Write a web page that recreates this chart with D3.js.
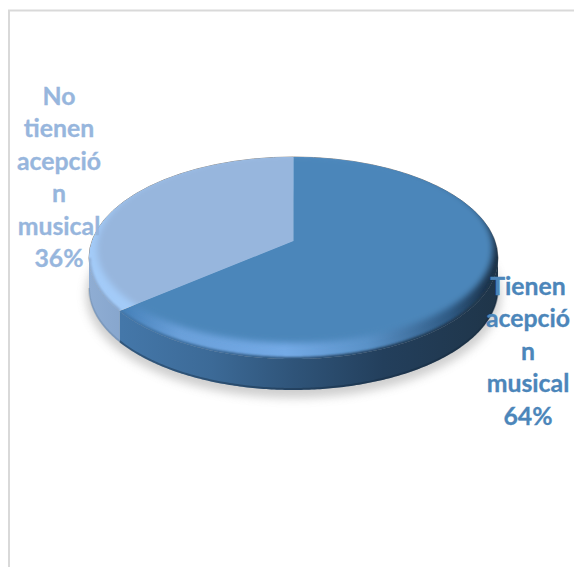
<!DOCTYPE html>
<html>
<head>
<meta charset="utf-8">
<script src="https://cdn.jsdelivr.net/npm/d3@7"></script>
<style>
  html, body { margin: 0; padding: 0; background: #fff; }
  svg { display: block; }
  text { font-family: Lato, "Open Sans", sans-serif; font-weight: 700; text-anchor: middle; }
</style>
</head>
<body>
<svg id="chart" width="574" height="567"></svg>
<script>
// Audience split, in percent
const categories = ["Tienen acepción musical", "No tienen acepción musical"];
const values = [64, 36];
const labelLines = [["Tienen", "acepció", "n", "musical"], ["No", "tienen", "acepció", "n", "musical"]];
const faceColors = ["#4C86BA", "#97B6DD"];
const labelColors = ["#4C86BA", "#97B6DD"];

const svg = d3.select("#chart");
const defs = svg.append("defs");

// Tilted disc: rim ellipse plus the point on screen where the slices meet
const disc = { cx: 293.5, cy: 258, rx: 204.5, ry: 101, hubY: 241, depth: 31 };
const k = (disc.cy - disc.hubY) / disc.ry;
const A = disc.rx * Math.sqrt(1 - k * k);

// Perspective projection of a unit-circle angle (clockwise from north) on to the rim
function project(theta) {
  const u = Math.sin(theta), v = Math.cos(theta), w = 1 + k * v;
  return [disc.cx + A * u / w, disc.cy - (disc.ry * v + (disc.cy - disc.hubY)) / w];
}

const pie = d3.pie().sort(null).value(d => d);
const arcs = pie(values);
const line = d3.line();

function rimPoints(a) {
  const n = Math.ceil((a.endAngle - a.startAngle) * 90);
  return d3.range(n + 1).map(i => project(a.startAngle + (a.endAngle - a.startAngle) * i / n));
}
const lowerRim = a => rimPoints(a).filter(p => p[1] >= disc.cy);
const wedgePath = a => line([[disc.cx, disc.hubY], ...rimPoints(a)]) + "Z";
function sidePath(a) {
  const low = lowerRim(a);
  return line([...low, ...low.slice().reverse().map(p => [p[0], p[1] + disc.depth])]) + "Z";
}

function blur(id, sd) {
  defs.append("filter").attr("id", id)
    .attr("x", "-10%").attr("y", "-10%").attr("width", "120%").attr("height", "120%")
    .append("feGaussianBlur").attr("stdDeviation", sd);
}
blur("soft", 3);
blur("edge", 1.2);
blur("shadowBlur", 5);

function hGradient(id, stops) {
  const g = defs.append("linearGradient").attr("id", id)
    .attr("gradientUnits", "userSpaceOnUse")
    .attr("x1", disc.cx - disc.rx).attr("x2", disc.cx + disc.rx).attr("y1", 0).attr("y2", 0);
  stops.forEach(([o, c]) => g.append("stop").attr("offset", o).attr("stop-color", c));
}
hGradient("side0", [[0.08, "#4477A9"], [0.3, "#3C6A97"], [0.5, "#2F5479"], [0.72, "#233F5C"], [1, "#1F3549"]]);
hGradient("side1", [[0, "#8FADD3"], [0.16, "#7F9FC8"]]);
hGradient("rim0", [[0.08, "#4580B8"], [0.22, "#6AA0DA"], [0.48, "#74AAE6"], [0.68, "#5A92C8"], [0.88, "#2F5A84"], [0.96, "#1F3A55"], [1, "#1B2F44"]]);
hGradient("rim1", [[0, "#A3CBF8"], [1, "#A3CBF8"]]);

// Chart frame: only the top and left edges fall inside the view
svg.append("path").attr("d", "M9 567V10.5H574").attr("fill", "none").attr("stroke", "#D9D9D9").attr("stroke-width", 2);

// Soft ground shadow
svg.append("ellipse")
  .attr("cx", disc.cx).attr("cy", disc.cy + disc.depth + 6)
  .attr("rx", disc.rx + 3).attr("ry", disc.ry + 2)
  .attr("fill", "#8c8c8c").attr("opacity", 0.42).attr("filter", "url(#shadowBlur)");

// Faint outline along the rim
svg.append("ellipse")
  .attr("cx", disc.cx).attr("cy", disc.cy).attr("rx", disc.rx).attr("ry", disc.ry)
  .attr("fill", "none").attr("stroke", "#8a8a8a").attr("stroke-width", 1);

// Side wall, darker along its bottom edge
const sides = svg.append("g");
arcs.forEach((a, i) => {
  sides.append("path").attr("d", sidePath(a)).attr("fill", `url(#side${i})`);
  const low = lowerRim(a).map(p => [p[0], p[1] + disc.depth - 1]);
  sides.append("path").attr("d", line(low)).attr("fill", "none")
    .attr("stroke", "#14283c").attr("stroke-opacity", i === 0 ? 0.4 : 0.12).attr("stroke-width", 2);
});

// Top surface: bevelled rim under a softened flat face, one slice at a time
arcs.slice().reverse().forEach(a => {
  const i = a.index;
  const clipId = `clip${i}`;
  defs.append("clipPath").attr("id", clipId).append("path").attr("d", wedgePath(a));
  const g = svg.append("g").attr("clip-path", `url(#${clipId})`);
  g.append("path").attr("d", wedgePath(a)).attr("fill", `url(#rim${i})`);
  g.append("ellipse")
    .attr("cx", disc.cx).attr("cy", disc.cy - 9.5)
    .attr("rx", disc.rx - (i === 0 ? 5 : 8)).attr("ry", disc.ry - 6.5)
    .attr("fill", faceColors[i]).attr("filter", "url(#soft)");
  // Bevel melts into the wall colour at the outer edge
  g.append("path").attr("d", line(lowerRim(a))).attr("fill", "none")
    .attr("stroke", `url(#side${i})`).attr("stroke-width", 4).attr("filter", "url(#edge)");
});

// Stacked data labels
const labelPlacement = [{ x: 528, y: 295 }, { x: 59, y: 105 }];
const lineStep = 32.4;
arcs.forEach((a, i) => {
  const lines = [...labelLines[i], `${values[i]}%`];
  const t = svg.append("text").attr("font-size", 24.8).attr("fill", labelColors[i])
    .attr("stroke", labelColors[i]).attr("stroke-width", 0.3).attr("aria-label", categories[i]);
  lines.forEach((s, j) => t.append("tspan")
    .attr("x", labelPlacement[i].x).attr("y", labelPlacement[i].y + j * lineStep).text(s));
});
</script>
</body>
</html>
